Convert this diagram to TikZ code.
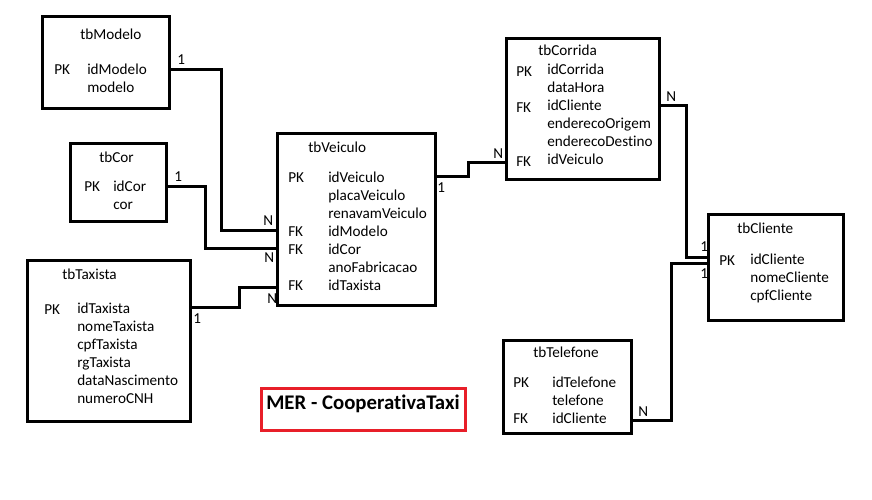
\documentclass[tikz,border=0pt]{standalone}
\usepackage{fontspec}
\setmainfont{Carlito}[Ligatures=NoCommon]
\usepackage{tikz}
\usetikzlibrary{calc}
\definecolor{vermelho}{rgb}{0.91,0.12,0.16}

\begin{document}
\begin{tikzpicture}[
			x=0.75pt, y=-0.75pt,
			every node/.style={font=\fontsize{11.4}{13}\selectfont, inner sep=0pt},
			caixa/.style={draw, line width=2.25pt, inner sep=0pt, outer sep=0pt},
			campo/.style={anchor=base west},
			chave/.style={anchor=base west},
			card/.style={anchor=base west},
			ligacao/.style={line width=2.25pt}
		]
		% Page
		\useasboundingbox (0,0) rectangle (872,500);

		% Box macro (name, left, top, right, bottom)
		\newcommand{\tabela}[5]{%
			\node[caixa, anchor=north west,
				minimum width={(#4-#2)*0.75pt},
				minimum height={(#5-#3)*0.75pt}] (#1) at (#2,#3) {};
		}

		% Tables
		\tabela{modelo}{42}{16}{169}{108}
		\tabela{cor}{70}{143}{166}{221}
		\tabela{veiculo}{277}{133}{435}{305}
		\tabela{taxista}{27}{260}{190}{421}
		\tabela{corrida}{506}{38}{659}{179}
		\tabela{cliente}{708}{214}{843}{320}
		\tabela{telefone}{503}{340}{631}{433}

		% tbModelo
		\node[campo] (modelo-t) at (80,39) {tbModelo};
		\node[chave] (modelo-pk) at (54,74) {PK};
		\foreach \t [count=\i] in {idModelo, modelo}{
				\node[campo] (modelo-a\i) at (87,{74+18*(\i-1)}) {\t};
			}

		% tbCor
		\node[campo] (cor-t) at (99,162) {tbCor};
		\node[chave] (cor-pk) at (84,191) {PK};
		\foreach \t [count=\i] in {idCor, cor}{
				\node[campo] (cor-a\i) at (113,{191+18*(\i-1)}) {\t};
			}

		% tbVeiculo
		\node[campo] (veiculo-t) at (308,152) {tbVeiculo};
		\node[chave] (veiculo-pk) at (288,182) {PK};
		\foreach \y [count=\i] in {236,254,290}{
				\node[chave] (veiculo-fk\i) at (288,\y) {FK};
			}
		\foreach \t [count=\i] in {idVeiculo, placaVeiculo, renavamVeiculo,
				idModelo, idCor, anoFabricacao, idTaxista}{
				\node[campo] (veiculo-a\i) at (328,{182+18*(\i-1)}) {\t};
			}

		% tbTaxista
		\node[campo] (taxista-t) at (62,279) {tbTaxista};
		\node[chave] (taxista-pk) at (44,314) {PK};
		\foreach \t [count=\i] in {idTaxista, nomeTaxista, cpfTaxista,
				rgTaxista, dataNascimento, numeroCNH}{
				\node[campo] (taxista-a\i) at (77,{313+18*(\i-1)}) {\t};
			}

		% tbCorrida
		\node[campo] (corrida-t) at (538,55) {tbCorrida};
		\node[chave] (corrida-pk) at (516,76) {PK};
		\node[chave] (corrida-fk1) at (516,112) {FK};
		\node[chave] (corrida-fk2) at (516,166) {FK};
		\foreach \t [count=\i] in {idCorrida, dataHora, idCliente,
				enderecoOrigem, enderecoDestino, idVeiculo}{
				\node[campo] (corrida-a\i) at (547,{74+18*(\i-1)}) {\t};
			}

		% tbCliente
		\node[campo] (cliente-t) at (737,233) {tbCliente};
		\node[chave] (cliente-pk) at (719,265) {PK};
		\foreach \t [count=\i] in {idCliente, nomeCliente, cpfCliente}{
				\node[campo] (cliente-a\i) at (750,{264+18*(\i-1)}) {\t};
			}

		% tbTelefone
		\node[campo] (telefone-t) at (533,357) {tbTelefone};
		\node[chave] (telefone-pk) at (513,387) {PK};
		\node[chave] (telefone-fk) at (513,423) {FK};
		\foreach \t [count=\i] in {idTelefone, telefone, idCliente}{
				\node[campo] (telefone-a\i) at (552,{387+18*(\i-1)}) {\t};
			}

		% Relationships
		\draw[ligacao] (modelo.east |- 0,69) -| (221,230) -- (veiculo.west |- 0,230);
		\draw[ligacao] (cor.east |- 0,186) -| (205,248) -- (veiculo.west |- 0,248);
		\draw[ligacao] (taxista.east |- 0,307) -| (239,287) -- (veiculo.west |- 0,287);
		\draw[ligacao] (veiculo.east |- 0,176) -| (468,162) -- (corrida.west |- 0,162);
		\draw[ligacao] (corrida.east |- 0,105) -| (686,257) -- (cliente.west |- 0,257);
		\draw[ligacao] (telefone.east |- 0,420) -| (671,263) -- (cliente.west |- 0,263);

		% Cardinalities
		\node[card] (c-modelo) at (177,64) {1};
		\node[card] (n-modelo) at (263,225) {N};
		\node[card] (c-cor) at (174,181) {1};
		\node[card] (n-cor) at (264,262) {N};
		\node[card] (c-taxista) at (193,323) {1};
		\node[card] (n-taxista) at (267,303) {N};
		\node[card] (c-veiculo) at (437,192) {1};
		\node[card] (n-corrida) at (493,158) {N};
		\node[card] (n-corrida2) at (666,101) {N};
		\node[card] (c-cliente1) at (700,251) {1};
		\node[card] (c-cliente2) at (700,278) {1};
		\node[card] (n-telefone) at (638,416) {N};

		% Title
		\draw[vermelho, line width=2.25pt] (261,388) rectangle (465,430);
		\node[anchor=base west, font=\fontsize{15.6}{18}\bfseries\selectfont] (titulo) at (266,409) {MER - CooperativaTaxi};
	\end{tikzpicture}
\end{document}
